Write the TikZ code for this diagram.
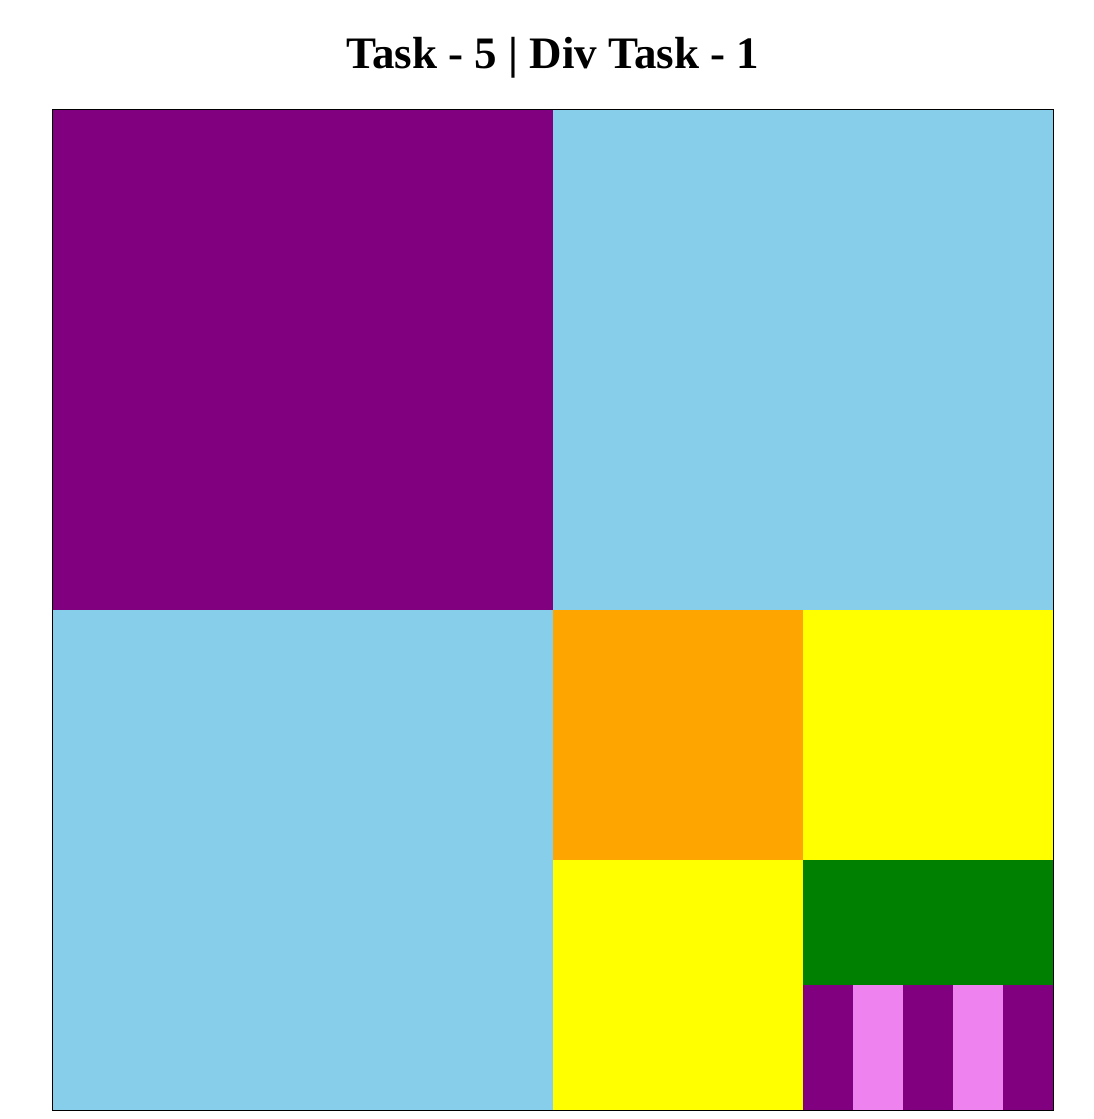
\documentclass[tikz,border=0pt]{standalone}
\usepackage{fontspec}
\setmainfont{Liberation Serif}
\definecolor{cpurple}{HTML}{800080}
\definecolor{csky}{HTML}{87CEEB}
\definecolor{corange}{HTML}{FFA500}
\definecolor{cyellow}{HTML}{FFFF00}
\definecolor{cgreen}{HTML}{008000}
\definecolor{cviolet}{HTML}{EE82EE}
\begin{document}
\begin{tikzpicture}[x=1pt,y=-1pt,
  title/.style={font=\fontsize{45}{50}\selectfont\bfseries, anchor=base, inner sep=0pt}]
\fill[white] (0,0) rectangle (1093,1119);
\useasboundingbox (0,0) rectangle (1093,1119);
\node[title] (title) at (553,68) {Task - 5 | Div Task - 1};
% quadrants
\fill[cpurple] (53,110) rectangle (553,610);
\fill[csky] (553,110) rectangle (1053,610);
\fill[csky] (53,610) rectangle (553,1110);
% bottom-right quadrant
\fill[corange] (553,610) rectangle (803,860);
\fill[cyellow] (803,610) rectangle (1053,860);
\fill[cyellow] (553,860) rectangle (803,1110);
\fill[cgreen] (803,860) rectangle (1053,985);
% stripes
\fill[cpurple] (803,985) rectangle (853,1110);
\fill[cviolet] (853,985) rectangle (903,1110);
\fill[cpurple] (903,985) rectangle (953,1110);
\fill[cviolet] (953,985) rectangle (1003,1110);
\fill[cpurple] (1003,985) rectangle (1053,1110);
% border
\draw[black, line width=1pt] (52.5,109.5) rectangle (1053.5,1110.5);
\end{tikzpicture}
\end{document}
